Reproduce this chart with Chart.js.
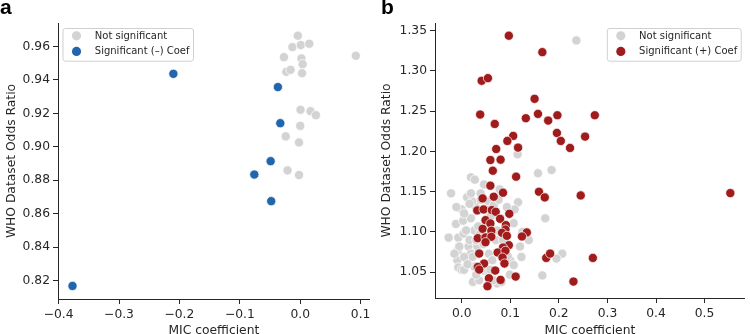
<!DOCTYPE html>
<html>
<head>
<meta charset="utf-8">
<script src="https://cdn.jsdelivr.net/npm/chart.js@4/dist/chart.umd.min.js"></script>
<style>
  body { margin: 0; background: #fff; }
  #wrap { position: relative; width: 750px; height: 334px; overflow: hidden; }
  .pane { position: absolute; top: 0; width: 375px; height: 334px; }
  .tag { position: absolute; top: -5px; font: bold 21px 'Liberation Sans', Arial, sans-serif; color: #000; }
</style>
</head>
<body>
<div id="wrap">
  <div class="pane" style="left:0"><canvas id="chartA" width="375" height="334"></canvas></div>
  <div class="pane" style="left:375px"><canvas id="chartB" width="375" height="334"></canvas></div>
  <div class="tag" style="left:0">a</div>
  <div class="tag" style="left:381px">b</div>
</div>
<script>
// panel a - negative coefficient
var aGrayX = [-0.004, -0.013, 0.001, 0.015, -0.027, 0.002, 0.004, -0.023, -0.016, 0.003, 0.092,
              0.0005, 0.017, 0.026, 0.000, -0.024, -0.002, -0.021, -0.002];
var aGrayY = [0.9664, 0.9596, 0.9608, 0.9616, 0.9536, 0.9528, 0.9494, 0.9448, 0.9460, 0.9440, 0.9544,
              0.9221, 0.9213, 0.9189, 0.9125, 0.9062, 0.9026, 0.8859, 0.8831];
var aSigX = [-0.377, -0.210, -0.037, -0.033, -0.049, -0.076, -0.048];
var aSigY = [0.8168, 0.9436, 0.9357, 0.9141, 0.8914, 0.8834, 0.8675];
var aXTicks = [-0.4, -0.3, -0.2, -0.1, 0.0, 0.1];
var aYTicks = [0.82, 0.84, 0.86, 0.88, 0.90, 0.92, 0.94, 0.96];

// panel b - positive coefficient
var bGrayX = [0.236, 0.115, 0.185, 0.157, -0.022, 0.172, 0.166, 0.207, 0.195, 0.099, 0.123, 0.120, 0.138,
              0.107, 0.116, 0.109, 0.078, 0.046, 0.019, 0.027, 0.055, -0.027, -0.012, 0.000, 0.011, 0.003,
              -0.009, -0.008, -0.007, 0.004, 0.014, 0.019, -0.007, 0.000, 0.005, 0.023, 0.036, 0.046, 0.026,
              0.022, 0.016, 0.026, 0.019, 0.029, 0.022, 0.016, 0.034, 0.038, 0.032, 0.056, 0.063, 0.053,
              0.073, 0.059, 0.070, 0.073, 0.053, 0.039, 0.066, 0.039, 0.076, 0.093, 0.100, 0.107, -0.005,
              -0.015, 0.005, 0.009, -0.011, 0.005, 0.019, 0.012, 0.030, 0.045, 0.085, 0.095, 0.125, 0.060,
              0.030, 0.082, 0.065];
var bGrayY = [1.338, 1.1965, 1.177, 1.173, 1.148, 1.117, 1.046, 1.073, 1.067, 1.047, 1.069, 1.082, 1.090,
              1.111, 1.137, 1.128, 1.153, 1.159, 1.168, 1.165, 1.138, 1.093, 1.110, 1.128, 1.143, 1.114,
              1.065, 1.077, 1.093, 1.098, 1.082, 1.073, 1.056, 1.053, 1.053, 1.038, 1.040, 1.052, 1.057,
              1.069, 1.090, 1.102, 1.117, 1.131, 1.138, 1.135, 1.107, 1.098, 1.082, 1.073, 1.065, 1.053,
              1.036, 1.053, 1.090, 1.102, 1.127, 1.140, 1.133, 1.148, 1.140, 1.131, 1.065, 1.059, 1.082,
              1.073, 1.069, 1.102, 1.131, 1.123, 1.148, 1.060, 1.090, 1.085, 1.090, 1.070, 1.100, 1.120,
              1.047, 1.038, 1.040];
var bSigX = [0.097, 0.166, 0.041, 0.054, 0.150, 0.038, 0.132, 0.157, 0.178, 0.197, 0.274, 0.068, 0.106,
             0.094, 0.116, 0.071, 0.196, 0.204, 0.254, 0.223, 0.059, 0.080, 0.064, 0.112, 0.059, 0.085,
             0.043, 0.066, 0.159, 0.171, 0.245, 0.553, 0.032, 0.045, 0.062, 0.070, 0.098, 0.049, 0.079,
             0.059, 0.091, 0.043, 0.061, 0.090, 0.134, 0.124, 0.083, 0.033, 0.049, 0.061, 0.093, 0.049,
             0.097, 0.085, 0.036, 0.074, 0.090, 0.084, 0.174, 0.182, 0.270, 0.088, 0.046, 0.033, 0.036,
             0.069, 0.111, 0.056, 0.080, 0.053, 0.230];
var bSigY = [1.3438, 1.3234, 1.2878, 1.2911, 1.2654, 1.2459, 1.2413, 1.2467, 1.2384, 1.245, 1.245, 1.2342,
             1.2193, 1.2131, 1.2048, 1.2031, 1.223, 1.2131, 1.2185, 1.2044, 1.1894, 1.1898, 1.1761, 1.1687,
             1.1575, 1.1488, 1.1417, 1.1438, 1.150, 1.1429, 1.1454, 1.1483, 1.1268, 1.1280, 1.1272, 1.1251,
             1.1226, 1.1147, 1.1164, 1.1106, 1.1085, 1.1039, 1.1015, 1.1031, 1.0994, 1.0944, 1.0990, 1.0923,
             1.0932, 1.0940, 1.0952, 1.0873, 1.0836, 1.0807, 1.0732, 1.0745, 1.0766, 1.0682, 1.0678, 1.0732,
             1.0678, 1.0608, 1.0608, 1.0566, 1.0533, 1.0521, 1.0446, 1.0425, 1.0405, 1.0326, 1.0384];
var bXTicks = [0.0, 0.1, 0.2, 0.3, 0.4, 0.5];
var bYTicks = [1.05, 1.10, 1.15, 1.20, 1.25, 1.30, 1.35];

var INK = '#262626';
var FONT = 'DejaVu Sans';

function pts(xs, ys) {
    return xs.map(function (x, i) { return {x: x, y: ys[i]}; });
}

function fmt(digits) {
    return function (v) {
        var s = Math.abs(v) < 1e-9 ? (0).toFixed(digits) : v.toFixed(digits);
        return s.replace('-', '\u2212');
    };
}

// legend box drawn inside the plot, matplotlib style
var boxLegend = {
    id: 'boxLegend',
    afterDraw: function (chart, args, opts) {
        var ctx = chart.ctx;
        var area = chart.chartArea;
        var sets = chart.data.datasets;
        ctx.save();
        ctx.font = '10px ' + FONT;
        var tw = 0;
        sets.forEach(function (ds) { tw = Math.max(tw, ctx.measureText(ds.label).width); });
        var w = 32.3 + tw + 3.5, h = 32.7;
        var left = opts.side === 'left' ? area.left + 4.5 : area.right - 4 - w;
        var top = area.top + 5;
        ctx.beginPath();
        ctx.roundRect(left + 0.5, top + 0.5, w, h, 2.5);
        ctx.fillStyle = 'rgba(255,255,255,0.8)';
        ctx.fill();
        ctx.strokeStyle = '#d0d0d0';
        ctx.lineWidth = 1;
        ctx.stroke();
        sets.forEach(function (ds, i) {
            var cy = top + 7.8 + i * 15.6;
            ctx.beginPath();
            ctx.arc(left + 14, cy, 4.6, 0, Math.PI * 2);
            ctx.fillStyle = ds.backgroundColor;
            ctx.fill();
            ctx.fillStyle = INK;
            ctx.textBaseline = 'middle';
            ctx.textAlign = 'left';
            ctx.fillText(ds.label, left + 32.3, cy + 0.5);
        });
        ctx.restore();
    }
};

function axis(ticks, digits, min, max, title, fitSize, horizontal) {
    return {
        type: 'linear',
        min: min,
        max: max,
        afterBuildTicks: function (s) { s.ticks = ticks.map(function (v) { return {value: v}; }); },
        afterFit: function (s) { if (horizontal) s.height = fitSize; else s.width = fitSize; },
        grid: {display: true, drawOnChartArea: false, drawTicks: true, tickLength: 5, color: INK, lineWidth: 1},
        border: {display: true, color: INK, width: 1},
        ticks: {color: INK, padding: 3, font: {family: FONT, size: 12.3}, callback: fmt(digits), autoSkip: false, maxRotation: 0},
        title: {display: true, text: title, color: INK, font: {family: FONT, size: 12.3},
                padding: horizontal ? {top: 0, bottom: -4} : {top: 4, bottom: 0}}
    };
}

function makeChart(id, gray, sig, sigLabel, sigColor, xs, ys, side, yw, xh, pad) {
    return new Chart(document.getElementById(id), {
        type: 'scatter',
        data: {
            datasets: [
                {label: 'Not significant', data: gray, order: 1,
                 backgroundColor: '#d3d3d3', borderColor: '#ffffff', borderWidth: 0.7, pointRadius: 4.6},
                {label: sigLabel, data: sig, order: 0,
                 backgroundColor: sigColor, borderColor: '#ffffff', borderWidth: 0.7, pointRadius: 4.6}
            ]
        },
        options: {
            responsive: false,
            animation: false,
            layout: {padding: pad},
            plugins: {legend: {display: false}, tooltip: {enabled: false}, boxLegend: {side: side}},
            scales: {
                x: axis(xs.ticks, 1, xs.min, xs.max, 'MIC coefficient', xh, true),
                y: axis(ys.ticks, 2, ys.min, ys.max, 'WHO Dataset Odds Ratio', yw, false)
            }
        },
        plugins: [boxLegend]
    });
}

makeChart('chartA', pts(aGrayX, aGrayY), pts(aSigX, aSigY), 'Significant (\u2013) Coef', '#2166ac',
    {ticks: aXTicks, min: -0.401, max: 0.115}, {ticks: aYTicks, min: 0.809, max: 0.974},
    'left', 58, 35, {left: 0, top: 23, right: 3, bottom: 0});

makeChart('chartB', pts(bGrayX, bGrayY), pts(bSigX, bSigY), 'Significant (+) Coef', '#a01b1b',
    {ticks: bXTicks, min: -0.055, max: 0.5826}, {ticks: bYTicks, min: 1.018, max: 1.3596},
    'right', 60, 36, {left: 0, top: 23, right: 1, bottom: 0});
</script>
</body>
</html>
